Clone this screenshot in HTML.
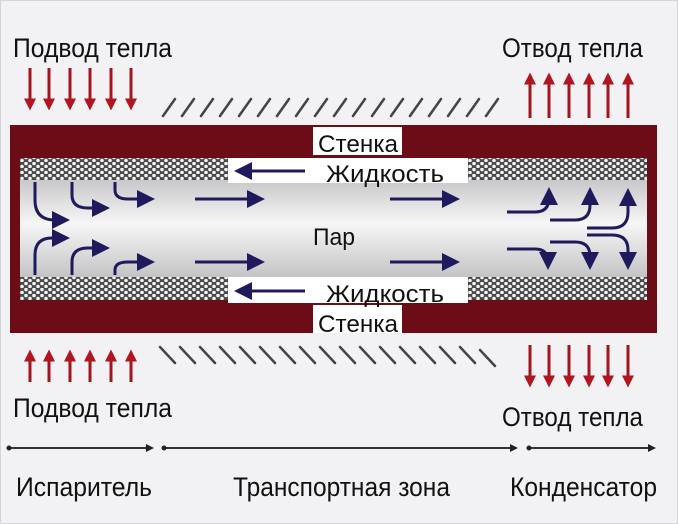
<!DOCTYPE html>
<html><head><meta charset="utf-8"><style>
html,body{margin:0;padding:0;background:#f2f2f4;}
svg{display:block}
text{font-family:"Liberation Sans",sans-serif;fill:#111;}
</style></head><body>
<svg width="678" height="524" viewBox="0 0 678 524" xmlns="http://www.w3.org/2000/svg">
<defs>
<pattern id="wick" width="8" height="6" patternUnits="userSpaceOnUse">
<rect width="8" height="6" fill="#4a4a4a"/>
<circle cx="2" cy="1.5" r="1.8" fill="#f4f4f4"/>
<circle cx="6" cy="4.5" r="1.8" fill="#f4f4f4"/>
</pattern>
<linearGradient id="vap" x1="0" y1="0" x2="0" y2="1">
<stop offset="0" stop-color="#c8c8ca"/><stop offset="0.45" stop-color="#f6f6f6"/><stop offset="1" stop-color="#c4c4c6"/>
</linearGradient>
<marker id="ah" markerWidth="6" markerHeight="6" refX="4" refY="3" orient="auto" markerUnits="strokeWidth">
<path d="M0,0 L6,3 L0,6 Z" fill="#1f1a5c"/></marker>
<marker id="rh" markerWidth="4" markerHeight="4" refX="2.5" refY="2" orient="auto" markerUnits="strokeWidth">
<path d="M0,0 L4,2 L0,4 Z" fill="#b01520"/></marker>
<marker id="kd" markerWidth="4" markerHeight="4" refX="3" refY="2" orient="auto" markerUnits="strokeWidth">
<path d="M0,0 L4,2 L0,4 Z" fill="#222"/></marker>
</defs>
<rect x="0.5" y="0.5" width="677" height="523" fill="#f2f2f4" stroke="#d4d4d6"/>
<rect x="10" y="125" width="647" height="208" fill="#6b0c16"/>
<rect x="20" y="158" width="627" height="142" fill="url(#wick)"/>
<rect x="20" y="180" width="627" height="97" fill="url(#vap)"/>
<rect x="228" y="158" width="240" height="25" fill="#fff"/>
<rect x="228" y="277" width="240" height="26" fill="#fff"/>
<rect x="313" y="127" width="89" height="28" fill="#fff"/>
<rect x="313" y="305" width="89" height="28" fill="#fff"/>
<g font-size="24">
<text x="318" y="152" textLength="80" lengthAdjust="spacingAndGlyphs">Стенка</text>
<text x="326" y="182" textLength="118" lengthAdjust="spacingAndGlyphs">Жидкость</text>
<text x="313" y="245" textLength="42" lengthAdjust="spacingAndGlyphs">Пар</text>
<text x="326" y="302" textLength="118" lengthAdjust="spacingAndGlyphs">Жидкость</text>
<text x="318" y="332" textLength="80" lengthAdjust="spacingAndGlyphs">Стенка</text>
</g>
<g stroke="#1f1a5c" stroke-width="3" fill="none" marker-end="url(#ah)">
<path d="M305,171 H240"/><path d="M305,291 H240"/>
<path d="M35,182 V200 Q35,220 55,220 H64"/>
<path d="M72,182 V195 Q72,208 88,208 H104"/>
<path d="M115,182 V190 Q115,199 128,199 H149"/>
<path d="M195,199 H259"/><path d="M195,262 H259"/>
<path d="M390,199 H454"/><path d="M390,262 H454"/>
<path d="M35,275 V255 Q35,238 52,238 H64"/>
<path d="M72,275 V262 Q72,248 88,248 H104"/>
<path d="M115,275 V270 Q115,262 128,262 H149"/>
<path d="M507,212 H535 Q549,212 549,198 V193"/>
<path d="M550,220 H575 Q590,220 590,205 V193"/>
<path d="M587,228 H612 Q628,228 628,212 V194"/>
<path d="M507,249 H535 Q548,249 548,262 V264"/>
<path d="M550,242 H575 Q590,242 590,256 V264"/>
<path d="M587,235 H612 Q628,235 628,250 V264"/>
</g>
<g stroke="#a3141e" stroke-width="3" marker-end="url(#rh)">
<path d="M30,68 V106"/><path d="M49,68 V106"/><path d="M70,68 V106"/><path d="M90,68 V106"/><path d="M111,68 V106"/><path d="M131,68 V106"/>
<path d="M530,118 V77"/><path d="M549,118 V77"/><path d="M569,118 V77"/><path d="M589,118 V77"/><path d="M608,118 V77"/><path d="M628,118 V77"/>
<path d="M30,382 V354"/><path d="M49,382 V354"/><path d="M70,382 V354"/><path d="M90,382 V354"/><path d="M111,382 V354"/><path d="M131,382 V354"/>
<path d="M530,345 V383"/><path d="M549,345 V383"/><path d="M569,345 V383"/><path d="M589,345 V383"/><path d="M608,345 V383"/><path d="M628,345 V383"/>
</g>
<g stroke="#444" stroke-width="2.5" stroke-linecap="round">
<path d="M163,116 L175,99 M182,116 L194,99 M201,116 L213,99 M220,116 L232,99 M239,116 L251,99 M258,116 L270,99 M277,116 L289,99 M296,116 L308,99 M315,116 L327,99 M334,116 L346,99 M353,116 L365,99 M372,116 L384,99 M391,116 L403,99 M410,116 L422,99 M429,116 L441,99 M448,116 L460,99 M467,116 L479,99 M486,116 L498,99"/>
<path d="M160,347 L175,363 M180,347 L195,363 M200,347 L215,363 M220,347 L235,363 M240,347 L255,363 M260,347 L275,363 M280,347 L295,363 M300,347 L315,363 M320,347 L335,363 M340,347 L355,363 M360,347 L375,363 M380,347 L395,363 M400,347 L415,363 M420,347 L435,363 M440,347 L455,363 M460,347 L475,363 M480,350 L495,366"/>
</g>
<g font-size="27">
<text x="13" y="57" textLength="159" lengthAdjust="spacingAndGlyphs">Подвод тепла</text>
<text x="502" y="57" textLength="141" lengthAdjust="spacingAndGlyphs">Отвод тепла</text>
<text x="13" y="417" textLength="159" lengthAdjust="spacingAndGlyphs">Подвод тепла</text>
<text x="502" y="426" textLength="141" lengthAdjust="spacingAndGlyphs">Отвод тепла</text>
<text x="16" y="496" textLength="136" lengthAdjust="spacingAndGlyphs">Испаритель</text>
<text x="233" y="496" textLength="217" lengthAdjust="spacingAndGlyphs">Транспортная зона</text>
<text x="510" y="496" textLength="147" lengthAdjust="spacingAndGlyphs">Конденсатор</text>
</g>
<g stroke="#333" stroke-width="2" marker-end="url(#kd)">
<path d="M9,448 H152"/><path d="M165,448 H516"/><path d="M530,448 H654"/>
</g>
<g fill="#222"><circle cx="9" cy="448" r="2.5"/><circle cx="164" cy="448" r="2.5"/><circle cx="529" cy="448" r="2.5"/></g>
</svg>
</body></html>
